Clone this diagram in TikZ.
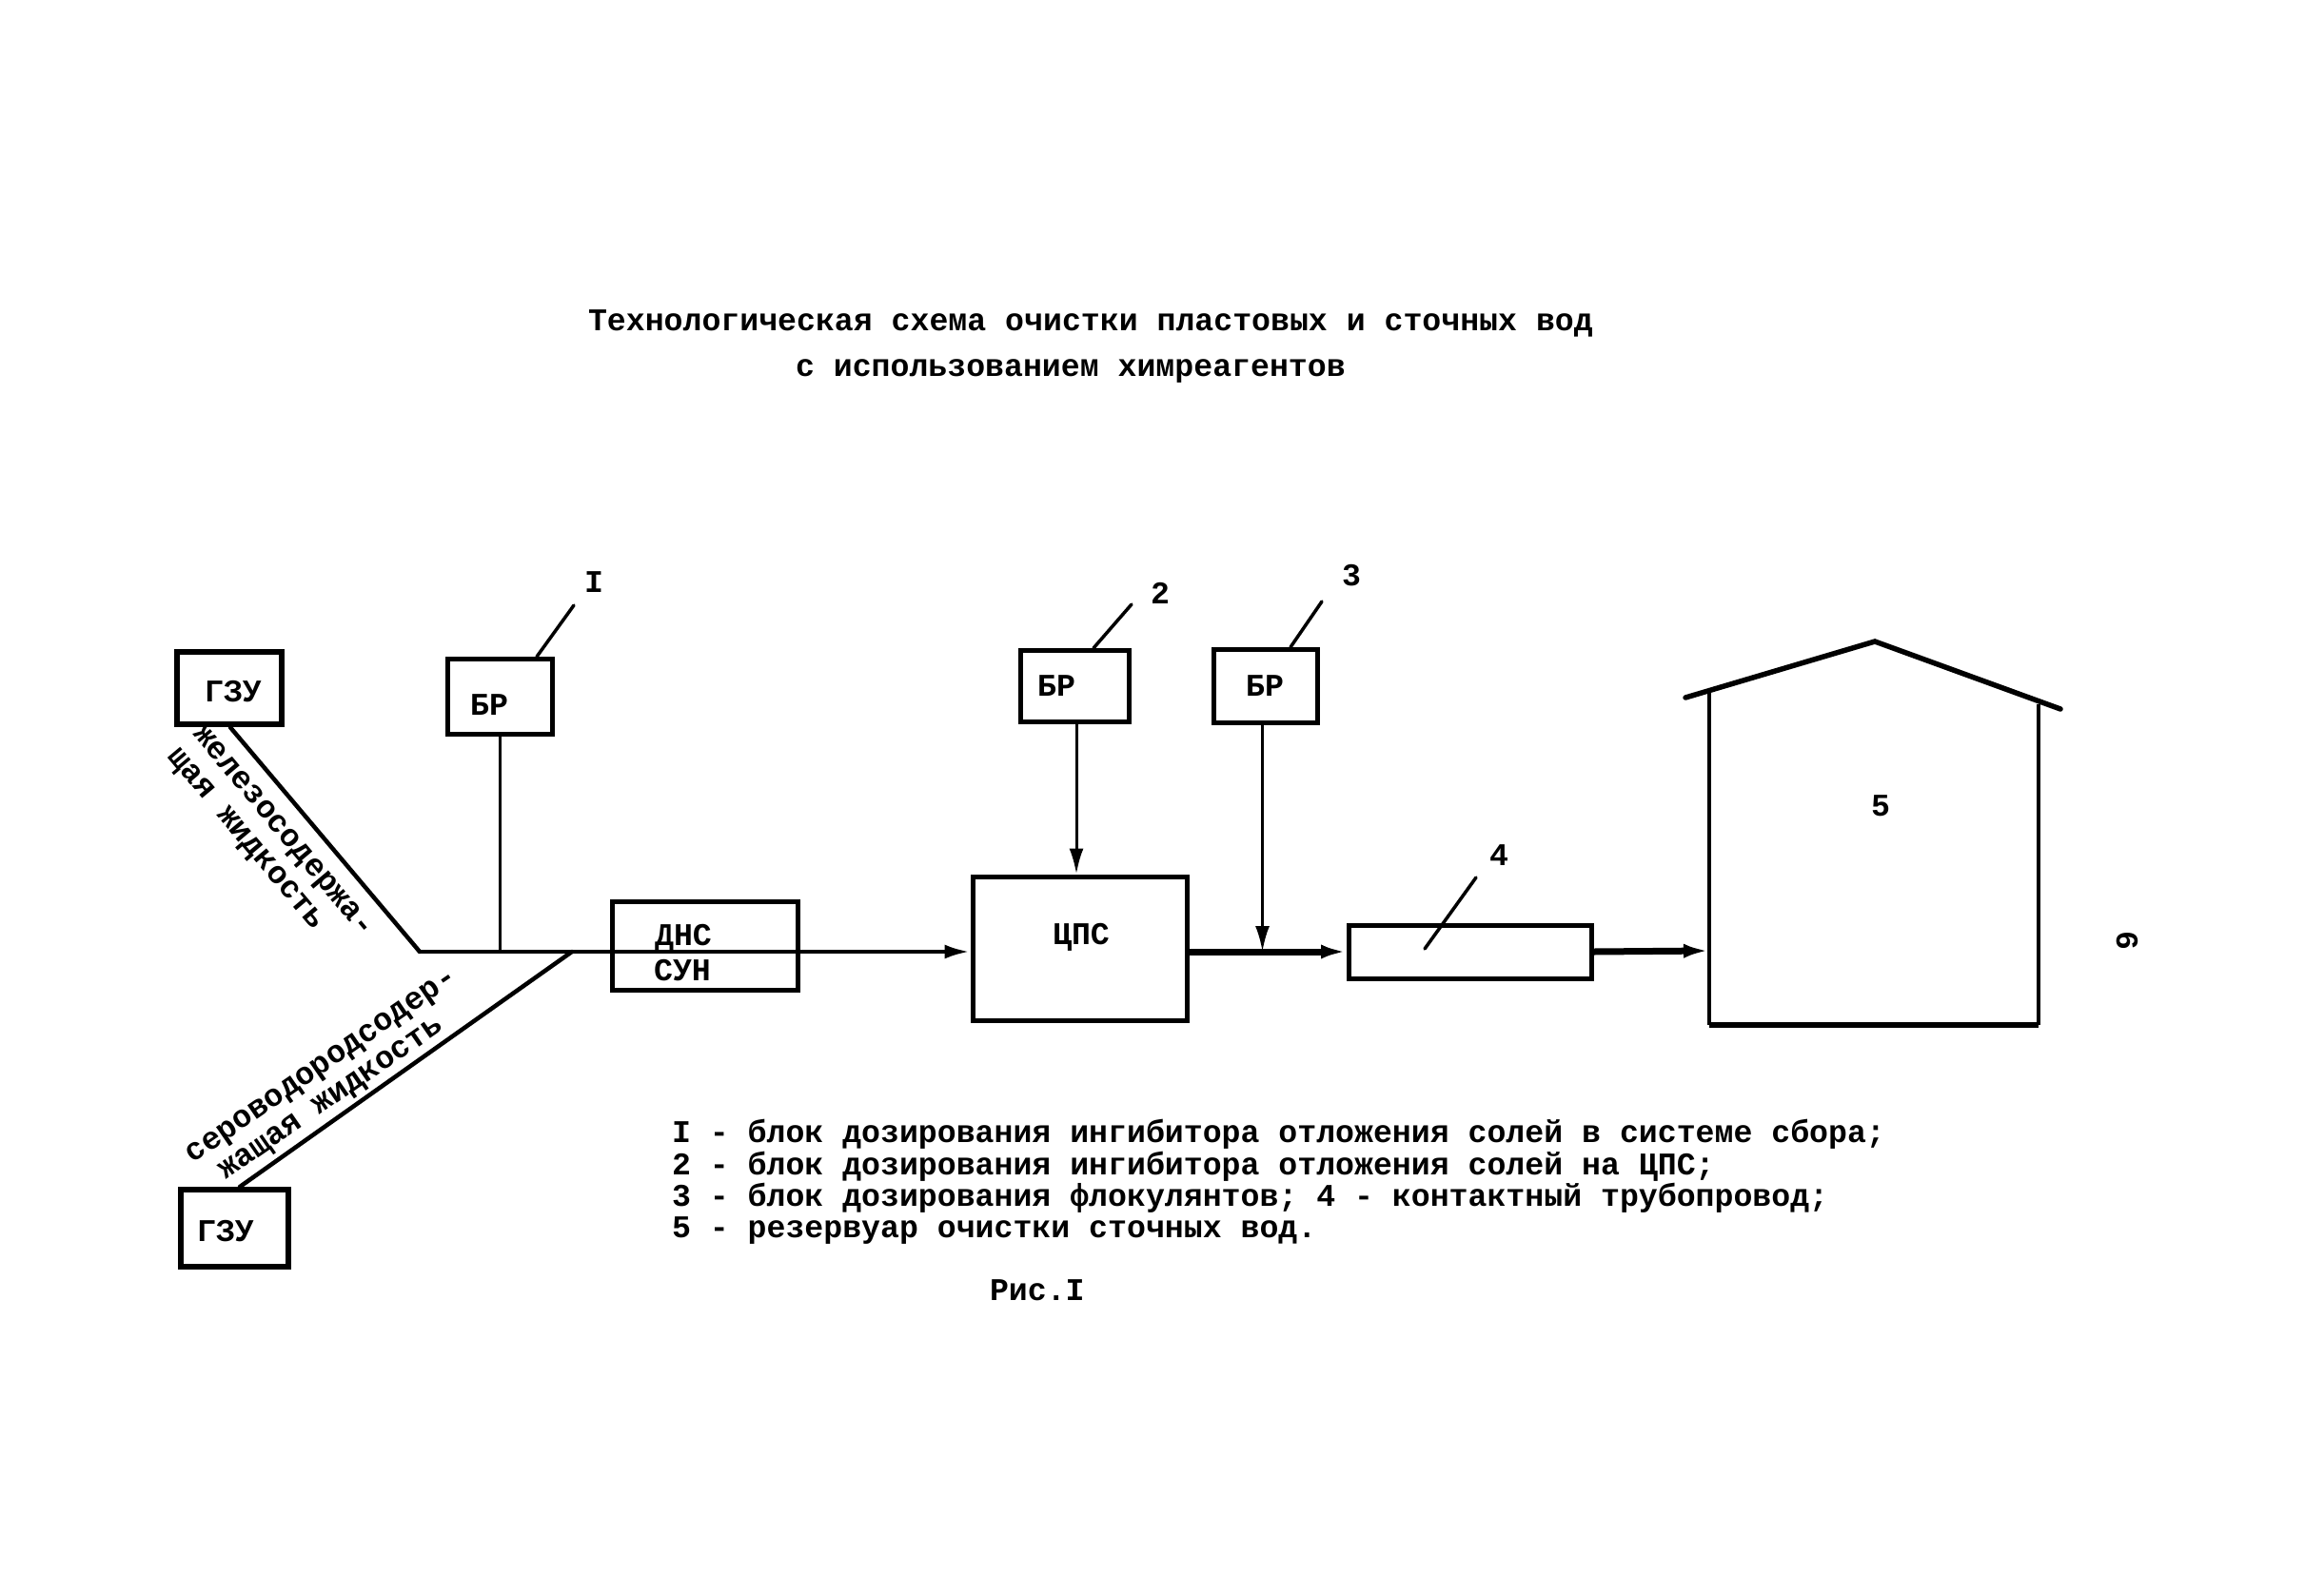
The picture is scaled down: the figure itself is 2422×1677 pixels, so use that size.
\documentclass[tikz,border=0pt]{standalone}
\usepackage{fontspec}
\setmainfont{Liberation Mono}[BoldFont={Liberation Mono Bold}]
\usetikzlibrary{arrows.meta}
\tikzset{
  x=1pt,y=-1pt,
  box/.style={draw=black,line width=5pt,fill=none,inner sep=0pt,minimum width=#1},
  txt/.style={inner sep=0pt,outer sep=0pt,font=\fontsize{33.2}{33.2}\selectfont\bfseries,text=black},
  lft/.style={txt,anchor=west},
  wire/.style={line width=4.5pt,line cap=round},
  heavy wire/.style={line width=7pt},
  thin wire/.style={line width=3pt},
  leader/.style={line width=3.5pt,line cap=round},
  arr/.style={-{Latex[length=27pt,width=15pt]}},
}
\begin{document}
\begin{tikzpicture}
\useasboundingbox (0,0) rectangle (2422,1677);
% title
\node[lft] (t1) at (618,340) {Технологическая схема очистки пластовых и сточных вод};
\node[lft] (t2) at (836,390) {с использованием химреагентов};
% boxes
\node[box=110pt,minimum height=76pt,line width=6.5pt] (g1) at (241,723) {};
\node[box=113pt,minimum height=81pt,line width=6pt] (g2) at (246.5,1290.5) {};
\node[box=110pt,minimum height=79pt] (br1) at (525,731.5) {};
\node[box=114pt,minimum height=75pt] (br2) at (1129,720.5) {};
\node[box=109pt,minimum height=77pt] (br3) at (1329.5,720.5) {};
\node[box=195pt,minimum height=93pt] (dns) at (740.5,993.5) {};
\node[box=225pt,minimum height=151pt] (cps) at (1134.5,996.5) {};
\node[box=255pt,minimum height=56pt] (tube) at (1545,1000) {};
% box texts
\node[txt] (lg1) at (245,727) {ГЗУ};
\node[txt] (lg2) at (237,1294) {ГЗУ};
\node[txt] (lb1) at (514,741) {БР};
\node[txt] (lb2) at (1110,721) {БР};
\node[txt] (lb3) at (1329,721) {БР};
\node[txt] (ld) at (718,986) {ДНС};
\node[txt] (ls) at (717,1020) {СУН};
\node[txt] (lc) at (1136,985) {ЦПС};
% tank
\coordinate (tl) at (1796,728);
\coordinate (tbl) at (1796,1077);
\coordinate (tbr) at (2142,1077);
\coordinate (tr) at (2142,740);
\coordinate (rl) at (1771,733);
\coordinate (ra) at (1970,674);
\coordinate (rr) at (2165,745);
\coordinate (tin) at (1796,999);
\draw[line width=4.5pt,line join=miter] (tl) -- (tbl);
\draw[line width=6.5pt] (tbl) -- (tbr);
\draw[line width=4.5pt] (tbr) -- (tr);
\draw[line width=5.5pt,line join=miter,line cap=round] (rl) -- (ra) -- (rr);
\node[txt] (l5) at (1976,847) {5};
% junctions and connectors
\coordinate (j1) at (441,1000);
\coordinate (j2) at (601,1000);
\draw[wire] (g1.south -| 242,0) -- (j1);
\draw[wire] (g2.north -| 252,0) -- (j2);
\draw[wire] (j1) -- (j2);
\draw[thin wire] (br1.south) -- (br1.south |- j1);
\draw[wire,arr] (j2) -- (cps.west |- j1);
\draw[thin wire,arr] ([xshift=2pt]br2.south) -- ([xshift=2pt]br2.south |- cps.north);
\draw[thin wire,arr] ([xshift=-3pt]br3.south) -- ([xshift=-3pt]br3.south |- tube.west);
\draw[heavy wire,arr] (cps.east |- tube.west) -- (tube.west);
\draw[heavy wire,arr] (tube.east) -- (tin);
% leaders
\coordinate (e1) at (603,636);
\coordinate (e2) at (1189,635);
\coordinate (e3) at (1389,632);
\coordinate (e4) at (1551,922);
\coordinate (s4) at (1497,997);
\draw[leader] (564,690) -- (e1);
\draw[leader] (1149,681) -- (e2);
\draw[leader] (1356,680) -- (e3);
\draw[leader] (s4) -- (e4);
\node[txt] (n1) at (624,612) {I};
\node[txt] (n2) at (1219,623) {2};
\node[txt] (n3) at (1420,605) {3};
\node[txt] (n4) at (1575,899) {4};
% side labels
\node[txt,rotate=-50] (a1) at (296,875) {железосодержа-};
\node[txt,rotate=-50] (a2) at (257,883) {щая жидкость};
\node[txt,rotate=34.6] (b1) at (339,1122) {сероводородсодер-};
\node[txt,rotate=34.6] (b2) at (349,1156) {жащая жидкость};
% legend
\node[lft] (k1) at (706,1192) {I - блок дозирования ингибитора отложения солей в системе сбора;};
\node[lft] (k2) at (706,1226) {2 - блок дозирования ингибитора отложения солей на ЦПС;};
\node[lft] (k3) at (706,1259) {3 - блок дозирования флокулянтов; 4 - контактный трубопровод;};
\node[lft] (k4) at (706,1293) {5 - резервуар очистки сточных вод.};
\node[lft] (fig) at (1040,1356) {Рис.I};
\node[txt,rotate=-90] (pg) at (2235,988) {6};
\end{tikzpicture}
\end{document}
